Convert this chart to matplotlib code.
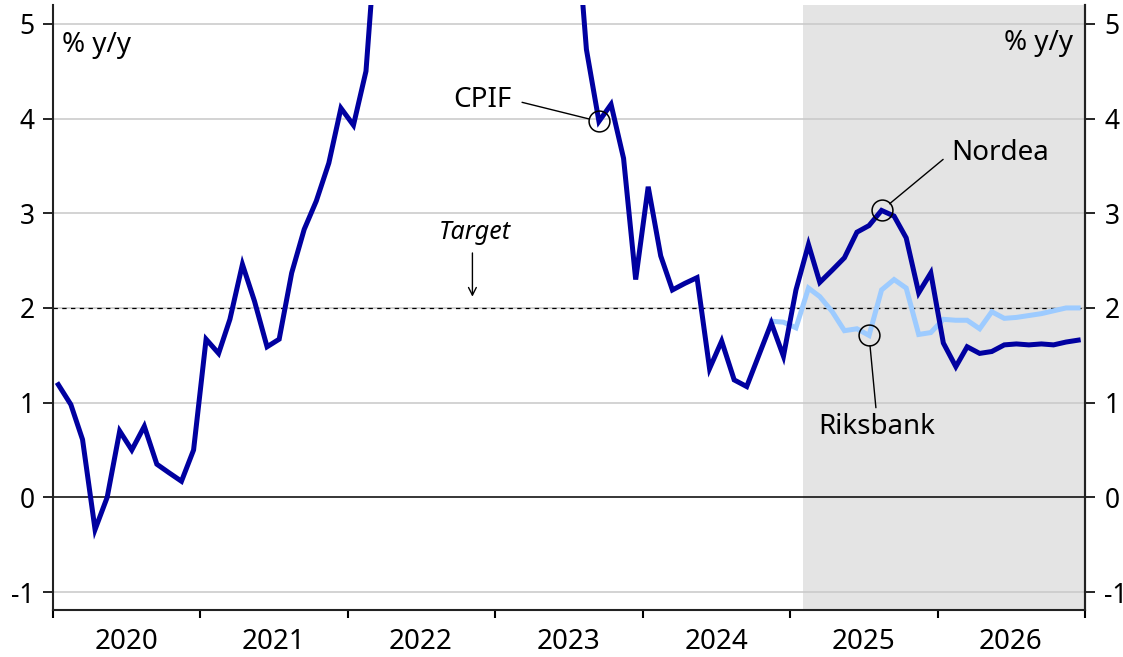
import matplotlib
matplotlib.use("Agg")
import matplotlib.pyplot as plt
import numpy as np
import pandas as pd

# ---------------- data ----------------
cpif_start = "2020-01"
cpif_values = [
    1.19, 0.98, 0.61, -0.34, 0.00, 0.70, 0.50, 0.75, 0.35, 0.26, 0.17, 0.50,   # 2020
    1.67, 1.52, 1.88, 2.46, 2.07, 1.59, 1.67, 2.37, 2.83, 3.13, 3.53, 4.11,    # 2021
    3.93, 4.50, 6.10, 6.40, 7.20, 8.50, 8.00, 9.00, 9.70, 9.30, 9.50, 10.20,   # 2022
    9.30, 9.40, 8.00, 7.60, 6.70, 6.40, 6.40, 4.73, 3.97, 4.15, 3.58, 2.30,    # 2023
    3.28, 2.55, 2.19, 2.26, 2.32, 1.36, 1.65, 1.24, 1.17, 1.50, 1.84, 1.49,    # 2024
    2.19, 2.67, 2.27, 2.40, 2.53, 2.80, 2.87, 3.03, 2.97, 2.74, 2.16, 2.37,    # 2025
    1.63, 1.38, 1.59, 1.52, 1.54, 1.61, 1.62, 1.61, 1.62, 1.61, 1.64, 1.66,    # 2026
]
riksbank_start = "2024-11"
riksbank_values = [
    1.86, 1.85,                                                                 # 2024
    1.79, 2.21, 2.12, 1.96, 1.76, 1.78, 1.71, 2.19, 2.30, 2.21, 1.72, 1.74,    # 2025
    1.88, 1.87, 1.87, 1.78, 1.96, 1.89, 1.90, 1.92, 1.94, 1.97, 2.00, 2.00,    # 2026
]
years = [2020, 2021, 2022, 2023, 2024, 2025, 2026]
target = 2.0
forecast_start = "2025-02-01"
y_ticks = [-1, 0, 1, 2, 3, 4, 5]

# annotation anchors (month of the highlighted points)
cpif_mark = "2023-09"
nordea_mark = "2025-08"
riksbank_mark = "2025-07"

# ---------------- style ----------------
DARK = "#0000A0"
LIGHT = "#9DCBFF"
SHADE = "#E4E4E4"
GRID = "#C8C8C8"

plt.rcParams["font.family"] = ["Noto Sans", "DejaVu Sans"]
plt.rcParams["axes.unicode_minus"] = False

def mid_month(start, n):
    p = pd.period_range(start, periods=n, freq="M")
    return p.to_timestamp(how="start") + pd.Timedelta(days=14)

cpif_x = mid_month(cpif_start, len(cpif_values))
rb_x = mid_month(riksbank_start, len(riksbank_values))
cpif_s = pd.Series(cpif_values, index=pd.period_range(cpif_start, periods=len(cpif_values), freq="M"))
rb_s = pd.Series(riksbank_values, index=pd.period_range(riksbank_start, periods=len(riksbank_values), freq="M"))

fig = plt.figure(figsize=(11.23, 6.57), dpi=100)
ax = fig.add_axes([0.0469, 0.0715, 0.9193, 0.921])

x0 = pd.Timestamp(f"{years[0]}-01-01")
x1 = pd.Timestamp(f"{years[-1] + 1}-01-01")
ax.set_xlim(x0, x1)
ylim = (-1.19, 5.2)
ax.set_ylim(*ylim)

ax.axvspan(pd.Timestamp(forecast_start), x1, color=SHADE, zorder=0, lw=0)
for yv in y_ticks:
    if yv == 0:
        ax.axhline(yv, color="black", lw=1.1, zorder=1)
    else:
        ax.axhline(yv, color=GRID, lw=1.1, zorder=1)
ax.axhline(target, color="black", lw=0.9, ls=(0, (3.5, 3.5)), zorder=2)

ax.plot(rb_x, riksbank_values, color=LIGHT, lw=3.6, zorder=3, solid_joinstyle="miter")
ax.plot(cpif_x, cpif_values, color=DARK, lw=3.6, zorder=4, solid_joinstyle="miter")

# ---- annotations ----
def mx(period):
    return pd.Period(period, freq="M").to_timestamp(how="start") + pd.Timedelta(days=14)

circ = dict(marker="o", ms=15, mfc="none", mec="black", mew=1.1, zorder=6, ls="none")
ax.plot([mx(cpif_mark)], [cpif_s[cpif_mark]], **circ)
ax.plot([mx(nordea_mark)], [cpif_s[nordea_mark]], **circ)
ax.plot([mx(riksbank_mark)], [rb_s[riksbank_mark]], **circ)

def dyear(v):
    yr = int(v)
    return pd.Timestamp(f"{yr}-01-01") + pd.Timedelta(days=(v - yr) * 365.25)

FS = 20
ax.annotate("CPIF", xy=(mx(cpif_mark), cpif_s[cpif_mark]), xytext=(dyear(2022.91), 4.20),
            ha="center", va="center", fontsize=FS, zorder=7,
            arrowprops=dict(arrowstyle="-", color="black", lw=1.0, shrinkA=6, shrinkB=7.5, relpos=(1, 0.5)))
ax.annotate("Nordea", xy=(mx(nordea_mark), cpif_s[nordea_mark]), xytext=(dyear(2026.092), 3.64),
            ha="left", va="center", fontsize=FS, zorder=7,
            arrowprops=dict(arrowstyle="-", color="black", lw=1.0, shrinkA=5, shrinkB=7.5, relpos=(0, 0.5)))
ax.annotate("Riksbank", xy=(mx(riksbank_mark), rb_s[riksbank_mark]), xytext=(dyear(2025.584), 0.74),
            ha="center", va="center", fontsize=FS, zorder=7,
            arrowprops=dict(arrowstyle="-", color="black", lw=1.0, shrinkA=2, shrinkB=7.5, relpos=(0.5, 1)))

tx = dyear(2022.845)
ax.text(dyear(2022.862), 2.80, "Target", ha="center", va="center", fontsize=18, style="italic", zorder=7)
ax.annotate("", xy=(tx, 2.09), xytext=(tx, 2.61),
            arrowprops=dict(arrowstyle="->,head_length=0.55,head_width=0.28", color="black", lw=1.0), zorder=7)

ax.text(0.009, 0.934, "% y/y", transform=ax.transAxes, ha="left", va="center", fontsize=FS)
ax.text(0.988, 0.937, "% y/y", transform=ax.transAxes, ha="right", va="center", fontsize=FS)

# ---- axes ----
for s in ["left", "right", "bottom"]:
    ax.spines[s].set_linewidth(1.5)
    ax.spines[s].set_color("#222222")
ax.spines["top"].set_visible(False)

ax.set_yticks(y_ticks)
ax.set_yticklabels([str(v) for v in y_ticks])
ax.tick_params(axis="y", direction="out", length=7, width=1.2, labelsize=19,
               left=True, right=False, labelleft=True, labelright=False, pad=6)

ax2 = ax.twinx()
ax2.set_ylim(*ylim)
ax2.set_yticks(y_ticks)
ax2.set_yticklabels([str(v) for v in y_ticks])
ax2.tick_params(axis="y", direction="out", length=7, width=1.2, labelsize=19, pad=7)
for s in ["left", "top", "bottom"]:
    ax2.spines[s].set_visible(False)
ax2.spines["right"].set_linewidth(1.5)
ax2.spines["right"].set_color("#222222")

ax.set_xticks([pd.Timestamp(f"{y}-01-01") for y in years] + [x1])
ax.set_xticklabels([])
ax.set_xticks([pd.Timestamp(f"{y}-07-01") for y in years], minor=True)
ax.set_xticklabels([str(y) for y in years], minor=True)
ax.tick_params(axis="x", which="major", direction="out", length=6, width=1.5)
ax.tick_params(axis="x", which="minor", length=0, labelsize=20, pad=13)

fig.savefig("out.png", dpi=100)
